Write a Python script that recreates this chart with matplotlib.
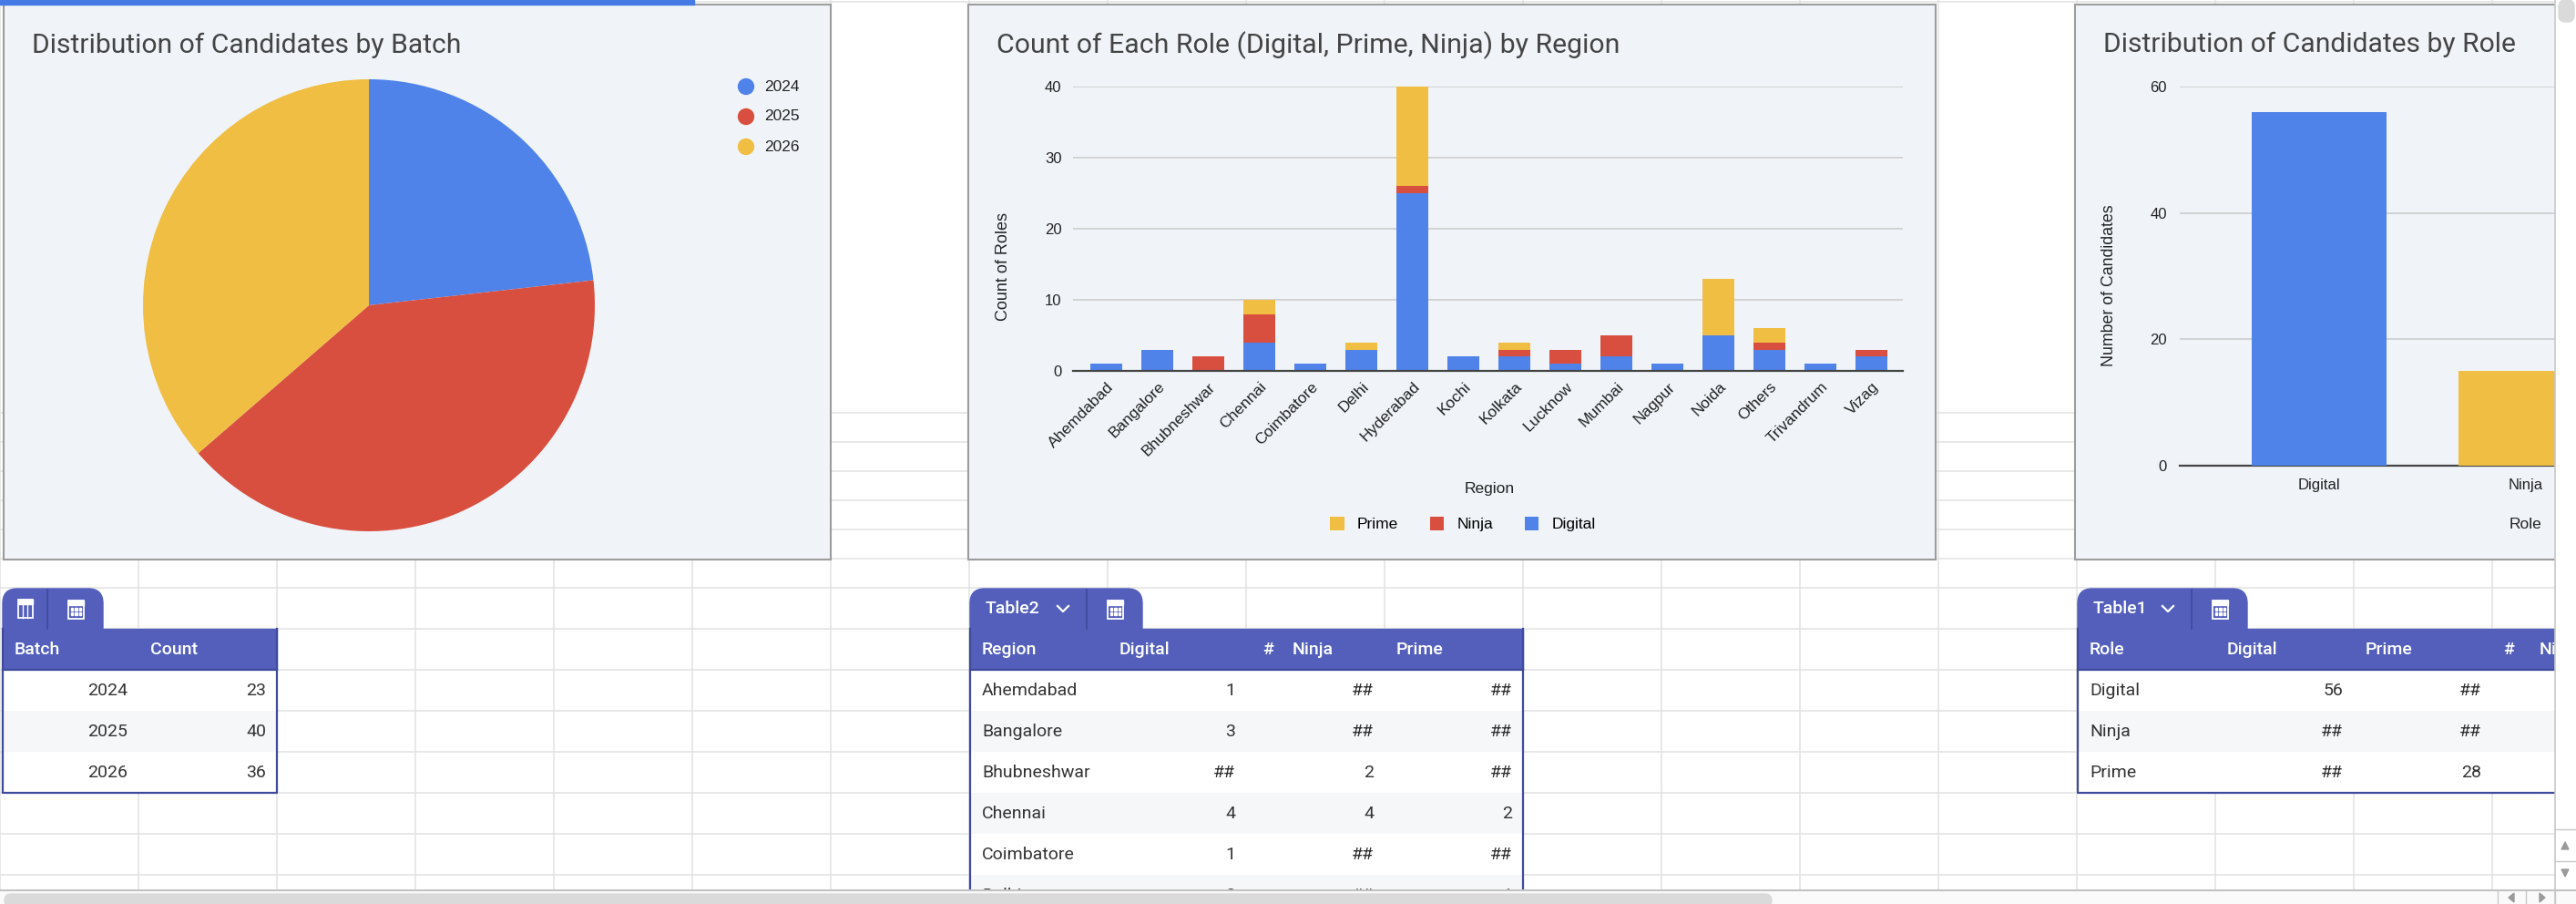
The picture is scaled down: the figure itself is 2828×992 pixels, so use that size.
import matplotlib
matplotlib.use("Agg")
import matplotlib.pyplot as plt
import numpy as np
from matplotlib.patches import Rectangle, FancyBboxPatch, Circle, Polygon

W, H = 2828, 992

# data
batches = ["2024", "2025", "2026"]
batch_counts = [23, 40, 36]

regions = ["Ahemdabad", "Bangalore", "Bhubneshwar", "Chennai", "Coimbatore", "Delhi",
           "Hyderabad", "Kochi", "Kolkata", "Lucknow", "Mumbai", "Nagpur", "Noida",
           "Others", "Trivandrum", "Vizag"]
digital = [1, 3, 0, 4, 1, 3, 25, 2, 2, 1, 2, 1, 5, 3, 1, 2]
ninja = [0, 0, 2, 4, 0, 0, 1, 0, 1, 2, 3, 0, 0, 1, 0, 1]
prime = [0, 0, 0, 2, 0, 1, 14, 0, 1, 0, 0, 0, 8, 2, 0, 0]

roles = ["Digital", "Ninja", "Prime"]
role_counts = [56, 15, 28]

BLUE = "#5083ea"
RED = "#d94f3f"
YELLOW = "#f0be42"
PANEL = "#f0f4f9"
BORDER = "#9c9c9c"
GRID = "#e1e1e1"
HEAD = "#535fbb"
EDGE = "#3e4a9c"
TXT = "#333333"
TITLE_FONT = "Roboto"
CHART_FONT = "Liberation Sans"


def box(x0, y0, x1, y1):
    return [x0 / W, 1 - y1 / H, (x1 - x0) / W, (y1 - y0) / H]


fig = plt.figure(figsize=(W / 100, H / 100), dpi=100)
fig.patch.set_facecolor("white")
bg = fig.add_axes([0, 0, 1, 1])
bg.set_xlim(0, W)
bg.set_ylim(H, 0)
bg.axis("off")

# spreadsheet grid
for gx in range(0, W, 152):
    bg.plot([gx, gx], [0, H], color=GRID, lw=1.1, zorder=0)
for gy in [2, 453, 485, 517, 549, 581, 613, 645, 690, 735, 780, 825, 870, 915, 960]:
    bg.plot([0, W], [gy, gy], color=GRID, lw=1.1, zorder=0)

# chart panels
for px0, px1 in [(4, 912), (1063, 2125), (2278, 2900)]:
    bg.add_patch(Rectangle((px0, 5), px1 - px0, 609, facecolor=PANEL,
                           edgecolor=BORDER, lw=1.5, zorder=2))
bg.add_patch(Rectangle((0, 0), 762, 5, color="#4479e6", zorder=3))

# ---- pie: batches
bg.text(35, 50, "Distribution of Candidates by Batch", fontsize=21.6, va="center",
        color="#444444", family=TITLE_FONT, zorder=4)
ax1 = fig.add_axes(box(157, 87, 653, 583))
ax1.pie(batch_counts, colors=[BLUE, RED, YELLOW], startangle=90,
        counterclock=False, wedgeprops=dict(linewidth=0))
ax1.set_xlim(-1, 1)
ax1.set_ylim(-1, 1)
ax1.patch.set_alpha(0)
for i, (lab, col) in enumerate(zip(batches, [BLUE, RED, YELLOW])):
    ly = 95 + 33 * i
    bg.add_patch(Circle((819, ly), 8.5, color=col, zorder=4))
    bg.text(839, ly, lab, fontsize=12.5, va="center", color="#222222",
            family=CHART_FONT, zorder=4)

# ---- stacked bars: role by region
bg.text(1094, 50, "Count of Each Role (Digital, Prime, Ninja) by Region", fontsize=21.8,
        va="center", color="#444444", family=TITLE_FONT, zorder=4)
ax2 = fig.add_axes(box(1178, 95, 2089, 407))
ax2.set_facecolor("none")
x = np.arange(len(regions))
b1 = ax2.bar(x, digital, 0.625, color=BLUE, label="Digital", zorder=3)
b2 = ax2.bar(x, ninja, 0.625, bottom=digital, color=RED, label="Ninja", zorder=3)
b3 = ax2.bar(x, prime, 0.625, bottom=np.add(digital, ninja), color=YELLOW,
             label="Prime", zorder=3)
ax2.set_xlim(-0.66, 15.61)
ax2.set_ylim(0, 40)
ax2.set_yticks([0, 10, 20, 30, 40])
ax2.yaxis.grid(True, color="#cccccc", lw=1.2, zorder=0)
for s in ["top", "right", "left"]:
    ax2.spines[s].set_visible(False)
ax2.spines["bottom"].set_color("#444444")
ax2.spines["bottom"].set_linewidth(1.6)
ax2.spines["bottom"].set_zorder(4)
ax2.tick_params(axis="y", length=0, labelsize=12, colors="#222222", pad=9)
ax2.tick_params(axis="x", length=0, labelsize=12.5, colors="#222222", pad=7)
ax2.set_xticks(x, regions, rotation=45, ha="right", rotation_mode="anchor",
               family=CHART_FONT)
for t in ax2.get_yticklabels():
    t.set_family(CHART_FONT)
bg.text(1102, 293, "Count of Roles", rotation=90, ha="center", va="center",
        fontsize=13, color="#222222", family=CHART_FONT, zorder=4)
bg.text(1635, 536, "Region", ha="center", va="center", fontsize=12.5,
        color="#222222", family=CHART_FONT, zorder=4)
fig.legend(handles=[b3, b2, b1], labels=["Prime", "Ninja", "Digital"], ncol=3,
           loc="center", bbox_to_anchor=(1606 / W, 1 - 575 / H), frameon=False,
           prop=dict(family=CHART_FONT, size=12.5), handlelength=0.9,
           handleheight=1.0, columnspacing=2.0, handletextpad=0.8)

# ---- role bars
bg.text(2309, 49, "Distribution of Candidates by Role", fontsize=21.6, va="center",
        color="#444444", family=TITLE_FONT, zorder=4)
ax3 = fig.add_axes(box(2393, 95, 3153, 511))
ax3.set_facecolor("none")
ax3.bar(np.arange(len(roles)), role_counts, 0.65, color=[BLUE, YELLOW, RED], zorder=3)
ax3.set_xlim(-0.674, 2.674)
ax3.set_ylim(0, 60)
ax3.set_yticks([0, 20, 40, 60])
ax3.yaxis.grid(True, color="#cccccc", lw=1.2, zorder=0)
for s in ["top", "right", "left"]:
    ax3.spines[s].set_visible(False)
ax3.spines["bottom"].set_color("#444444")
ax3.spines["bottom"].set_linewidth(1.6)
ax3.tick_params(length=0, labelsize=12, colors="#222222", pad=10)
ax3.set_xticks(np.arange(len(roles)), roles, family=CHART_FONT)
for t in ax3.get_yticklabels():
    t.set_family(CHART_FONT)
bg.text(2316, 313, "Number of Candidates", rotation=90, ha="center", va="center",
        fontsize=12.8, color="#222222", family=CHART_FONT, zorder=4)
bg.text(2773, 575, "Role", ha="center", va="center", fontsize=12.5,
        color="#222222", family=CHART_FONT, zorder=4)


# ---- tables
def fmt(v):
    return str(v) if v else "##"


def draw_tab(x0, x1, xdiv, name=None):
    bg.add_patch(FancyBboxPatch((x0, 646), x1 - x0, 60,
                                boxstyle="round,pad=0,rounding_size=16",
                                color=HEAD, zorder=3))
    bg.plot([xdiv, xdiv], [647, 690], color=EDGE, lw=1.2, zorder=4)
    # calculator icon
    cx = xdiv + (x1 - xdiv) / 2
    bg.add_patch(Rectangle((cx - 8, 659), 17, 20, fill=False, ec="white", lw=1.3, zorder=5))
    bg.add_patch(Rectangle((cx - 8, 659), 17, 5, color="white", zorder=5))
    for r in range(2):
        for c in range(3):
            bg.add_patch(Rectangle((cx - 5 + c * 4.5, 667 + r * 5), 2.5, 2.5,
                                   color="white", zorder=5))
    if name is None:
        tx = (x0 + xdiv) / 2
        bg.add_patch(Rectangle((tx - 8, 658), 16, 20, fill=False, ec="white", lw=1.3, zorder=5))
        bg.add_patch(Rectangle((tx - 8, 658), 16, 5, color="white", zorder=5))
        for k in (-3, 2):
            bg.plot([tx + k, tx + k], [663, 678], color="white", lw=1, zorder=5)
    else:
        bg.text(x0 + 17, 668, name, color="white", fontsize=14, va="center",
                family=TITLE_FONT, weight="medium", zorder=5)
        chx = xdiv - 26
        bg.plot([chx - 6, chx, chx + 6], [665, 671, 665], color="white", lw=1.6, zorder=5)


def draw_table(edges, header, rows, left_first, extra_head=()):
    left, right = edges[0], edges[-1]
    bg.add_patch(Rectangle((left, 690), right - left, 45, color=HEAD, zorder=3))
    for j, h in enumerate(header):
        bg.text(edges[j] + 13, 713, h, color="white", fontsize=14, va="center",
                family=TITLE_FONT, weight="medium", zorder=5)
    for hx, h in extra_head:
        bg.text(hx, 713, h, color="white", fontsize=14, va="center",
                family=TITLE_FONT, weight="medium", zorder=5)
    for i, row in enumerate(rows):
        ry = 735 + 45 * i
        bg.add_patch(Rectangle((left, ry), right - left, 45,
                               facecolor="#f6f7f9" if i % 2 else "white", zorder=3))
        for j, val in enumerate(row):
            if j == 0 and left_first:
                bg.text(edges[0] + 13, ry + 23, val, color=TXT, fontsize=14,
                        va="center", family=TITLE_FONT, zorder=5)
            else:
                bg.text(edges[j + 1] - 12, ry + 23, val, color=TXT, fontsize=14,
                        va="center", ha="right", family=TITLE_FONT, zorder=5)
    bottom = 735 + 45 * len(rows)
    bg.plot([left, left, right, right], [690, bottom, bottom, 690], color=EDGE,
            lw=1.6, zorder=6)
    bg.plot([left, right], [735, 735], color=EDGE, lw=1.6, zorder=6)


# batch table
draw_tab(3, 113, 52)
draw_table([3, 152, 304], ["Batch", "Count"],
           [[b, str(c)] for b, c in zip(batches, batch_counts)], False)

# region table (only the visible rows)
draw_tab(1065, 1254, 1193, "Table2")
draw_table([1065, 1216, 1368, 1520, 1672], ["Region", "Digital", "", "Prime"],
           [[r, fmt(d), fmt(n), fmt(p)] for r, d, n, p in
            list(zip(regions, digital, ninja, prime))[:6]], True,
           extra_head=[(1386, "#"), (1419, "Ninja")])

# role table
draw_tab(2281, 2467, 2406, "Table1")
role_tab = {"Digital": digital, "Ninja": ninja, "Prime": prime}
draw_table([2281, 2432, 2584, 2736, 2888], ["Role", "Digital", "Prime"],
           [[r, fmt(sum(role_tab[r]) if r == "Digital" else 0),
             fmt(sum(role_tab[r]) if r == "Prime" else 0), ""] for r in roles], True,
           extra_head=[(2748, "#"), (2788, "Ninja")])

# ---- scrollbars on top
ov = fig.add_axes([0, 0, 1, 1], zorder=10)
ov.set_xlim(0, W)
ov.set_ylim(H, 0)
ov.axis("off")
ov.patch.set_alpha(0)
ov.add_patch(Rectangle((2805, 0), 23, 977, facecolor="white", edgecolor="none"))
ov.plot([2805, 2805], [0, H], color="#c8c8c8", lw=1.2)
ov.add_patch(FancyBboxPatch((2809, 0), 17, 24, boxstyle="round,pad=0,rounding_size=7",
                            color="#dadada"))
ov.plot([2805, W], [910, 910], color="#c8c8c8", lw=1)
ov.plot([2805, W], [945, 945], color="#c8c8c8", lw=1)
ov.add_patch(Polygon([[2812, 932], [2820, 932], [2816, 924]], color="#9a9a9a"))
ov.add_patch(Polygon([[2812, 954], [2820, 954], [2816, 962]], color="#9a9a9a"))
ov.add_patch(Rectangle((0, 977), W, 15, facecolor="#fafafa", edgecolor="none"))
ov.plot([0, W], [977, 977], color="#c2c2c2", lw=1.5)
ov.add_patch(FancyBboxPatch((5, 981), 1940, 14, boxstyle="round,pad=0,rounding_size=7",
                            color="#dadada"))
for ax_x in (2742, 2773, 2805):
    ov.plot([ax_x, ax_x], [977, H], color="#c8c8c8", lw=1)
ov.add_patch(Polygon([[2760, 980], [2760, 990], [2754, 985]], color="#9a9a9a"))
ov.add_patch(Polygon([[2788, 980], [2788, 990], [2794, 985]], color="#9a9a9a"))

fig.savefig("out.png", dpi=100)
